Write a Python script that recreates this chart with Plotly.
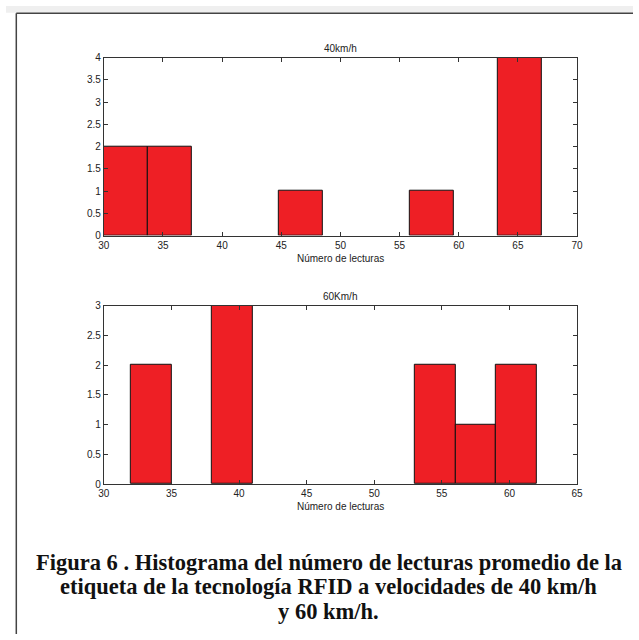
import plotly.graph_objects as go

# ---- data ----
bins40_left = [30.0, 33.7, 37.4, 41.1, 44.8, 48.5, 52.2, 55.9, 59.6, 63.3]
bin40_width = 3.7
counts40 = [2, 2, 0, 0, 1, 0, 0, 1, 0, 4]

bins60_left = [32, 35, 38, 41, 44, 47, 50, 53, 56, 59]
bin60_width = 3
counts60 = [2, 0, 3, 0, 0, 0, 0, 2, 1, 2]

title40 = "40km/h"
title60 = "60Km/h"
xlabel = "Número de lecturas"
caption_lines = [
    "Figura 6 . Histograma del número de lecturas promedio de la",
    "etiqueta de la tecnología RFID a velocidades de 40 km/h",
    "y 60 km/h.",
]

W, H = 639, 640
RED = "#EE1F25"


def px_x(p):
    return p / W


def px_y(p):
    return 1 - p / H


def nonzero(lefts, counts):
    pairs = [(l, c) for l, c in zip(lefts, counts) if c > 0]
    return [p[0] for p in pairs], [p[1] for p in pairs]


fig = go.Figure()

x40, y40 = nonzero(bins40_left, counts40)
x60, y60 = nonzero(bins60_left, counts60)

fig.add_trace(go.Bar(
    x=x40, y=y40, width=[bin40_width] * len(x40), offset=0,
    marker=dict(color=RED, line=dict(color="#111111", width=1)),
    xaxis="x", yaxis="y", showlegend=False))
fig.add_trace(go.Bar(
    x=x60, y=y60, width=[bin60_width] * len(x60), offset=0,
    marker=dict(color=RED, line=dict(color="#111111", width=1)),
    xaxis="x2", yaxis="y2", showlegend=False))

xdom = [px_x(99.7), px_x(582)]
tickfont = dict(family="Liberation Sans, Arial, sans-serif", size=10, color="#222222")
axcommon = dict(showline=True, linecolor="#333333", linewidth=1, mirror="allticks",
                ticks="inside", ticklen=4, tickcolor="#333333", showgrid=False,
                zeroline=False, tickfont=tickfont)

fig.update_layout(
    width=W, height=H, margin=dict(l=0, r=0, t=0, b=0),
    paper_bgcolor="white", plot_bgcolor="white", bargap=0,
    xaxis=dict(domain=xdom, range=[30, 70], dtick=5, tick0=30, anchor="y", **axcommon),
    yaxis=dict(domain=[px_y(234), px_y(52.7)], range=[0, 4], dtick=0.5, anchor="x",
               **axcommon),
    xaxis2=dict(domain=xdom, range=[30, 65], dtick=5, tick0=30, anchor="y2", **axcommon),
    yaxis2=dict(domain=[px_y(487.3), px_y(305.5)], range=[0, 3], dtick=0.5, anchor="x2",
                **axcommon),
)

labfont = dict(family="Liberation Sans, Arial, sans-serif", size=10, color="#222222")
xc = (xdom[0] + xdom[1]) / 2
fig.add_annotation(x=xc, y=px_y(43), xref="paper", yref="paper", text=title40,
                   showarrow=False, font=labfont, xanchor="center", yanchor="middle")
fig.add_annotation(x=xc, y=px_y(296), xref="paper", yref="paper", text=title60,
                   showarrow=False, font=labfont, xanchor="center", yanchor="middle")
fig.add_annotation(x=xc, y=px_y(257.5), xref="paper", yref="paper", text=xlabel,
                   showarrow=False, font=labfont, xanchor="center", yanchor="middle")
fig.add_annotation(x=xc, y=px_y(510), xref="paper", yref="paper", text=xlabel,
                   showarrow=False, font=labfont, xanchor="center", yanchor="middle")

cap_y = [567, 592, 617]
for line, yy in zip(caption_lines, cap_y):
    fig.add_annotation(x=px_x(329), y=px_y(yy), xref="paper", yref="paper",
                       text="<b>" + line + "</b>",
                       showarrow=False, align="center", xanchor="center", yanchor="middle",
                       font=dict(family="Liberation Serif, serif", size=22.5, color="#111111"))

# frame
fig.add_shape(type="rect", xref="paper", yref="paper", x0=0, x1=1, y0=px_y(7), y1=1,
              fillcolor="#efefef", line=dict(width=0), layer="below")
fig.add_shape(type="line", xref="paper", yref="paper", x0=px_x(10.5), x1=1,
              y0=px_y(7.5), y1=px_y(7.5), line=dict(color="#444444", width=1.5))
fig.add_shape(type="line", xref="paper", yref="paper", x0=px_x(10.5), x1=px_x(10.5),
              y0=px_y(7.5), y1=0, line=dict(color="#444444", width=1.5))

fig.write_html("out.html")
